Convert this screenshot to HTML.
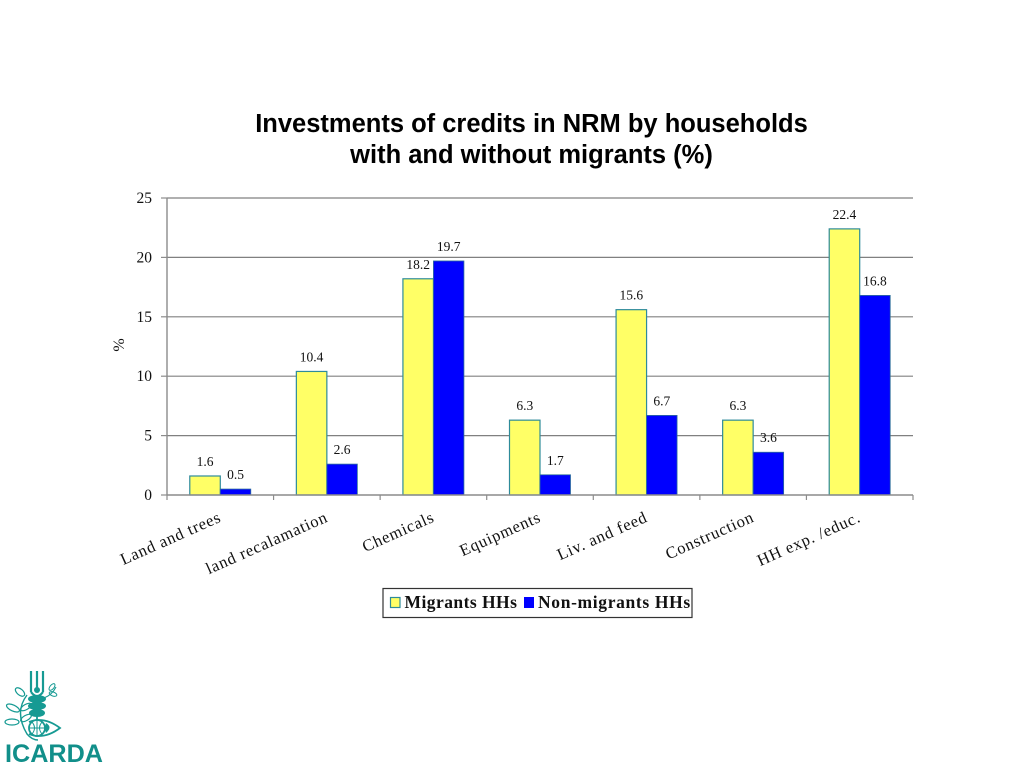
<!DOCTYPE html>
<html lang="en">
<head>
<meta charset="utf-8">
<title>Investments of credits in NRM</title>
<style>
html,body{margin:0;padding:0;background:#fff;width:1024px;height:768px;overflow:hidden}
svg{display:block}
.serif{font-family:"Liberation Serif","DejaVu Serif",serif;fill:#111}
.sans{font-family:"Liberation Sans",Arial,sans-serif}
</style>
</head>
<body>
<svg id="chart" xmlns="http://www.w3.org/2000/svg" width="1024" height="768" viewBox="0 0 1024 768">
  <g class="sans" font-weight="700" font-size="25.5" fill="#000" text-anchor="middle">
    <text x="531.5" y="132">Investments of credits in NRM by households</text>
    <text x="531.5" y="163">with and without migrants (%)</text>
  </g>
  <g id="grid"></g>
  <g id="yaxis"></g>
  <g id="bars"></g>
  <g id="xaxis"></g>
  <g id="values"></g>
  <g id="cats"></g>
  <text class="serif" font-size="16" text-anchor="middle" transform="translate(124,345) rotate(-90)">%</text>

  <g>
    <rect x="383" y="588.5" width="309" height="29" fill="#fff" stroke="#333" stroke-width="1.2"/>
    <rect x="390.5" y="597.5" width="9.5" height="10" fill="#ffff66" stroke="#2e8b9a" stroke-width="1.2"/>
    <text class="serif" x="404.5" y="608" font-size="17.5" font-weight="700" letter-spacing="0.45" fill="#000">Migrants HHs</text>
    <rect x="524" y="597" width="10" height="11" fill="#0000ff"/>
    <text class="serif" x="538" y="608" font-size="17.5" font-weight="700" letter-spacing="0.65" fill="#000">Non-migrants HHs</text>
  </g>

  <g>
    <g fill="none" stroke="#169a93" stroke-width="1.8">
      <path d="M31 671V692M37 671V690M43 671V692" stroke-width="2.2"/>
      <path d="M31 692Q37 700 43 692" stroke-width="2.2"/>
      <circle cx="37" cy="690" r="3" fill="#169a93" stroke="none"/>
      <ellipse cx="37" cy="699" rx="9" ry="4" fill="#169a93" stroke="none"/>
      <ellipse cx="37" cy="706" rx="9" ry="4" fill="#169a93" stroke="none"/>
      <ellipse cx="37" cy="713" rx="8" ry="4" fill="#169a93" stroke="none"/>
      <path d="M37 716V722"/>
      <path d="M29 722Q44 716 60 728Q44 740 29 734" stroke-width="1.8"/>
      <circle cx="37" cy="728" r="8" fill="#fff"/>
      <path d="M29 728H45M37 720V736M32 722Q37 728 32 734M42 722Q37 728 42 734" stroke-width="1"/>
      <path d="M46 723Q53 727 46 733Q44 728 46 723z" fill="#169a93" stroke="none"/>
      <path d="M27 695Q14 712 27 734Q32 740 38 740" stroke-width="1.4"/>
      <ellipse cx="20" cy="692" rx="5.5" ry="3" transform="rotate(40 20 692)" stroke-width="1.2"/>
      <ellipse cx="13" cy="708" rx="7" ry="3" transform="rotate(25 13 708)" stroke-width="1.2"/>
      <ellipse cx="12" cy="722" rx="7" ry="3" stroke-width="1.2"/>
      <ellipse cx="26" cy="707" rx="6" ry="2.6" transform="rotate(-30 26 707)" stroke-width="1.2"/>
      <ellipse cx="26" cy="718" rx="6" ry="2.6" transform="rotate(-30 26 718)" stroke-width="1.2"/>
      <path d="M44 698Q52 695 56 687" stroke-width="1.1"/>
      <ellipse cx="52" cy="687" rx="4" ry="2" transform="rotate(-50 52 687)" stroke-width="1"/>
      <ellipse cx="53" cy="694" rx="4" ry="2" transform="rotate(20 53 694)" stroke-width="1"/>
    </g>
    <text class="sans" x="5" y="762" font-size="25.2" font-weight="700" fill="#118f8a">ICARDA</text>
  </g>
</svg>
<script>
var categories = ["Land and trees", "land recalamation", "Chemicals", "Equipments", "Liv. and feed", "Construction", "HH exp. /educ."];
var migrantsValues = [1.6, 10.4, 18.2, 6.3, 15.6, 6.3, 22.4];
var nonMigrantsValues = [0.5, 2.6, 19.7, 1.7, 6.7, 3.6, 16.8];
var yTickLabels = [0, 5, 10, 15, 20, 25];

var SVGNS = "http://www.w3.org/2000/svg";
var plotLeft = 167, plotRight = 913, plotBottom = 495, plotTop = 198, yMax = 25;
var barWidth = 30.5;

function yScale(v) {
  return plotBottom - (v / yMax) * (plotBottom - plotTop);
}
function bandStart(i) {
  return plotLeft + i * (plotRight - plotLeft) / categories.length;
}
function bandCenter(i) {
  return bandStart(i) + (plotRight - plotLeft) / categories.length / 2;
}
function make(tag, parent, attrs) {
  var el = document.createElementNS(SVGNS, tag);
  for (var k in attrs) el.setAttribute(k, attrs[k]);
  parent.appendChild(el);
  return el;
}

var grid = document.getElementById("grid");
var yaxis = document.getElementById("yaxis");
var xaxis = document.getElementById("xaxis");
var bars = document.getElementById("bars");
var valuesGroup = document.getElementById("values");
var cats = document.getElementById("cats");

yTickLabels.forEach(function (t) {
  var y = yScale(t);
  if (t > 0) {
    var g = make("line", grid, {x1: plotLeft, x2: plotRight, y1: y, y2: y, stroke: "#808080", "stroke-width": 1.2});
    
    
  }
  var tick = make("line", yaxis, {x1: plotLeft - 6, x2: plotLeft, y1: y, y2: y, stroke: "#8c8c8c", "stroke-width": 1.2});
  
  
  var label = make("text", yaxis, {x: 152, y: y + 5, "text-anchor": "end", "font-size": 15.5, "class": "serif"});
  
  
  label.textContent = t;
});
var yLine = make("line", yaxis, {x1: plotLeft, x2: plotLeft, y1: plotTop, y2: plotBottom, stroke: "#8c8c8c", "stroke-width": 1.4});



var xLine = make("line", xaxis, {x1: plotLeft, x2: plotRight, y1: plotBottom, y2: plotBottom, stroke: "#8c8c8c", "stroke-width": 1.4});


for (var i = 0; i <= categories.length; i++) {
  var xt = i === categories.length ? plotRight : bandStart(i);
  var xTick = make("line", xaxis, {x1: xt, x2: xt, y1: plotBottom, y2: plotBottom + 5, stroke: "#8c8c8c", "stroke-width": 1.2});
  
  
}

function drawValue(x, v) {
  var t = make("text", valuesGroup, {x: x, y: yScale(v) - 10, "text-anchor": "middle", "font-size": 13.5, "class": "serif"});
  
  
  t.textContent = v.toFixed(1);
}

categories.forEach(function (name, i) {
  var c = bandCenter(i);
  var y1 = yScale(migrantsValues[i]);
  var r1 = make("rect", bars, {x: c - barWidth, y: y1, width: barWidth, height: plotBottom - y1, fill: "#ffff66", stroke: "#2e8b9a", "stroke-width": 1.2});
  
  
  var y2 = yScale(nonMigrantsValues[i]);
  var r2 = make("rect", bars, {x: c, y: y2, width: barWidth, height: plotBottom - y2, fill: "#0000ff", stroke: "#2e6f9a", "stroke-width": 0.8});
  
  
  drawValue(c - barWidth / 2, migrantsValues[i]);
  drawValue(c + barWidth / 2, nonMigrantsValues[i]);
  var ax = c + 2, ay = 521;
  var label = make("text", cats, {x: ax, y: ay, "text-anchor": "end", "font-size": 16.5, "letter-spacing": "0.8", "class": "serif", transform: "rotate(-24 " + ax + " " + ay + ")"});
  
  
  label.textContent = name;
});
</script>
</body>
</html>
